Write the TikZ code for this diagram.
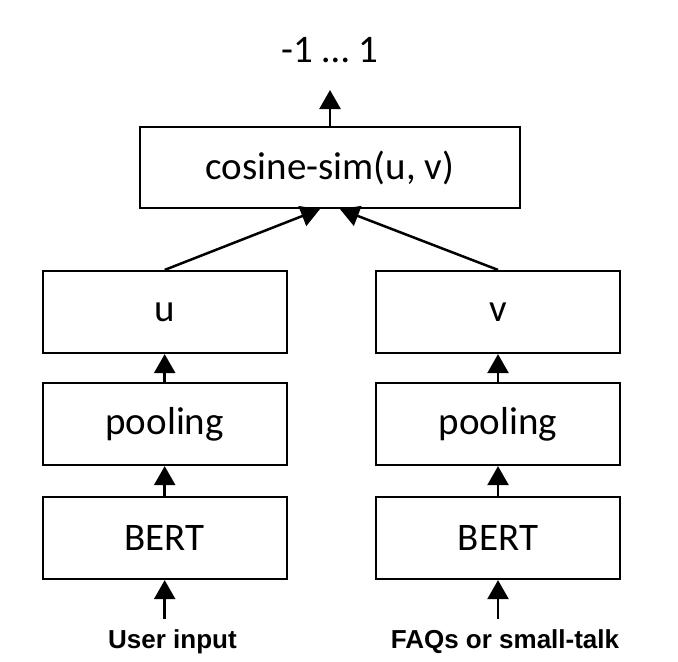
\documentclass[tikz,border=0pt]{standalone}
\usepackage{fontspec}
\setmainfont{Carlito}
\newfontfamily\inputfont{Liberation Sans}
\usetikzlibrary{arrows.meta}

\begin{document}
\begin{tikzpicture}[x=0.5pt,y=-0.5pt,
    layer/.style={draw, line width=1.1pt, minimum width=122pt, minimum height=41pt,
      inner sep=0pt, font=\fontsize{19.5pt}{23pt}\selectfont},
    wide/.style={layer, minimum width=190pt, minimum height=40.5pt},
    source/.style={anchor=base, inner sep=5pt, font=\inputfont\bfseries\fontsize{13pt}{15pt}\selectfont},
    flow/.style={-{Triangle[width=10.5pt,length=9.5pt]}, line width=1.25pt}]
\useasboundingbox (0,0) rectangle (678,661);
    % output
\node[anchor=base, font=\fontsize{19.5pt}{23pt}\selectfont] (range) at (330,62) {-1 … 1};
\coordinate (out) at (330,90);
\node[wide] (cos) at (330,167.5) {cosine-sim(u, v)};
    % left branch
\node[layer] (u) at (164.7,312) {u};
\node[layer] (pool1) at (164.7,424) {pooling};
\node[layer] (bert1) at (164.7,538) {BERT};
\node[source] (in1) at (172.5,648) {User input};
    % right branch
\node[layer] (v) at (498,312) {v};
\node[layer] (pool2) at (498,424) {pooling};
\node[layer] (bert2) at (498,538) {BERT};
\node[source] (in2) at (505,648) {FAQs or small-talk};
\draw[flow] (cos) to (out);
\draw[flow] (u.north) to ([xshift=-5pt]cos.south);
\draw[flow] (v.north) to ([xshift=5pt]cos.south);
\draw[flow] (pool1) to (u);
\draw[flow] (bert1) to (pool1);
\draw[flow] (in1.north -| bert1.south) to (bert1.south);
\draw[flow] (pool2) to (v);
\draw[flow] (bert2) to (pool2);
\draw[flow] (in2.north -| bert2.south) to (bert2.south);
  \end{tikzpicture}
\end{document}
